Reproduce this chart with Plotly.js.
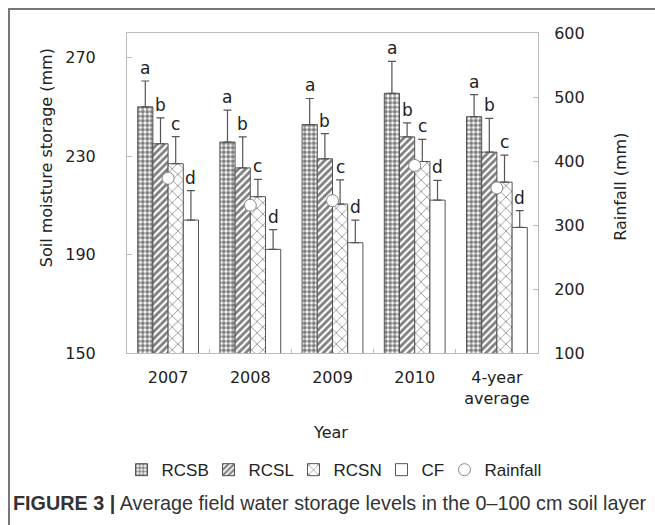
<!DOCTYPE html>
<html>
<head>
<meta charset="utf-8">
<script src="https://cdn.plot.ly/plotly-3.0.1.min.js"></script>
<style>
html,body{margin:0;padding:0;background:#fff;}
#wrap{position:relative;width:655px;height:525px;overflow:hidden;}
#chart{position:absolute;left:0;top:0;width:655px;height:525px;}
#frame{position:absolute;left:8px;top:8px;width:700px;height:600px;border-left:2px solid #777;border-top:2px solid #777;pointer-events:none;}
</style>
</head>
<body>
<div id="wrap"><div id="chart"></div><div id="frame"></div></div>
<script>
// ---- data ----
const years = ['2007', '2008', '2009', '2010', '4-year<br>average'];
const seriesNames = ['RCSB', 'RCSL', 'RCSN', 'CF'];
const RCSB = [250, 235.7, 242.8, 255.5, 246];
const RCSL = [235, 225.2, 228.9, 237.8, 231.6];
const RCSN = [226.9, 213.5, 210.5, 227.8, 219.4];
const CF   = [204, 192.1, 194.8, 212.1, 201];
const errRCSB = [10.5, 13, 10.6, 13, 9];
const errRCSL = [10.5, 12.6, 10.2, 5.7, 13.7];
const errRCSN = [11, 7, 9.8, 9, 11];
const errCF   = [12, 8, 9.2, 8, 6.8];
const letters = ['a', 'b', 'c', 'd'];
const rainfall = [373, 331, 338, 393, 358];

const values = [RCSB, RCSL, RCSN, CF];
const errs = [errRCSB, errRCSL, errRCSN, errCF];

const font = 'DejaVu Sans, Verdana, sans-serif';
const capFont = 'Liberation Sans, Arial, sans-serif';
const txt = '#222';
const edge = '#555';

const patterns = [
  {shape: '.', size: 4.5, solidity: 0.62, fgcolor: '#000', bgcolor: '#fff', fillmode: 'overlay'},
  {shape: '/', size: 5, solidity: 0.55, fgcolor: '#000', bgcolor: '#fff', fillmode: 'overlay'},
  {shape: 'x', size: 8, solidity: 0.2, fgcolor: '#222', bgcolor: '#fff', fillmode: 'overlay'},
  {shape: '', bgcolor: '#fff'}
];
const legendWidths = [42, 40, 43, 18];

const bargap = 0.26;
const traces = seriesNames.map((name, j) => ({
  type: 'bar',
  name: name,
  x: years,
  y: values[j],
  legendwidth: legendWidths[j],
  marker: {color: '#fff', line: {color: edge, width: 1}, pattern: patterns[j]},
  error_y: {type: 'data', symmetric: false, array: errs[j], arrayminus: errs[j].map(() => 0),
            color: edge, thickness: 1.2, width: 4},
  hoverinfo: 'skip'
}));

traces.push({
  type: 'scatter',
  mode: 'markers',
  name: 'Rainfall',
  x: years,
  y: rainfall,
  yaxis: 'y2',
  legendwidth: 58,
  marker: {symbol: 'circle', size: 12, color: '#fff', line: {color: '#888', width: 1}},
  hoverinfo: 'skip'
});

// letters above the error bars
const nS = seriesNames.length;
const bw = (1 - bargap) / nS;
const annotations = [];
values.forEach((vals, j) => {
  vals.forEach((v, i) => {
    annotations.push({
      x: i + (j - (nS - 1) / 2) * bw, xref: 'x',
      y: v + errs[j][i], yref: 'y',
      text: letters[j], showarrow: false, yanchor: 'bottom', yshift: 1,
      font: {family: font, size: 17, color: txt}
    });
  });
});

annotations.push({
  text: 'Soil moisture storage (mm)', xref: 'paper', yref: 'paper', x: -0.196, y: 0.61,
  textangle: -90, showarrow: false, xanchor: 'center', yanchor: 'middle',
  font: {family: font, size: 16, color: txt}
});
annotations.push({
  text: 'Rainfall (mm)', xref: 'paper', yref: 'paper', x: 1.2, y: 0.52,
  textangle: -90, showarrow: false, xanchor: 'center', yanchor: 'middle',
  font: {family: font, size: 16, color: txt}
});
annotations.push({
  text: 'Year', xref: 'paper', yref: 'paper', x: 0.494, y: -0.247,
  showarrow: false, xanchor: 'center', yanchor: 'middle',
  font: {family: font, size: 16, color: txt}
});
annotations.push({
  text: '<b>FIGURE 3 |</b> Average field water storage levels in the 0\u2013100 cm soil layer',
  xref: 'paper', yref: 'paper', x: -0.2817, y: -0.469,
  showarrow: false, xanchor: 'left', yanchor: 'middle',
  font: {family: capFont, size: 19.8, color: '#333'}
});

const layout = {
  width: 655, height: 525,
  margin: {l: 127, r: 117, t: 33, b: 172},
  paper_bgcolor: 'rgba(0,0,0,0)', plot_bgcolor: '#fff',
  barmode: 'group', bargap: bargap, bargroupgap: 0,
  showlegend: true,
  legend: {orientation: 'h', xref: 'paper', yref: 'paper', x: -0.0134, xanchor: 'left',
           y: -0.366, yanchor: 'middle',
           font: {family: capFont, size: 17, color: txt},
           itemwidth: 30, tracegroupgap: 0, bgcolor: 'rgba(0,0,0,0)'},
  xaxis: {type: 'category', showline: true, linecolor: '#bbb', linewidth: 1, mirror: true,
          ticks: 'inside', tickson: 'boundaries', ticklen: 4, tickcolor: '#bbb',
          tickfont: {family: font, size: 16, color: txt}, ticklabelstandoff: 10,
          showgrid: false, zeroline: false},
  yaxis: {range: [150, 280], tickvals: [150, 190, 230, 270], showline: true, linecolor: '#bbb',
          ticks: 'inside', ticklen: 5, tickcolor: '#bbb', showgrid: false, zeroline: false,
          tickfont: {family: font, size: 16, color: txt}, ticklabelstandoff: 27},
  yaxis2: {range: [100, 600], dtick: 100, overlaying: 'y', side: 'right', showline: true,
           linecolor: '#bbb', ticks: 'inside', ticklen: 5, tickcolor: '#bbb', showgrid: false,
           zeroline: false, tickfont: {family: font, size: 16, color: txt}, ticklabelstandoff: 12},
  annotations: annotations
};

Plotly.newPlot('chart', traces, layout, {staticPlot: true});
</script>
</body>
</html>
